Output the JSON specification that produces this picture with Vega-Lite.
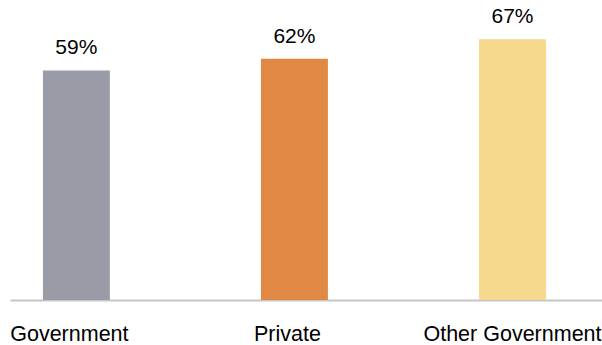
{
  "$schema": "https://vega.github.io/schema/vega-lite/v6.json",
  "width": 592,
  "height": 300,
  "autosize": {"type": "none"},
  "padding": {"left": 10, "top": 0, "right": 0, "bottom": 45},
  "background": "white",
  "config": {"view": {"stroke": null}, "font": "Liberation Sans"},
  "data": {"values": [
    {"sector": "Government", "share": 0.59, "label": "59%"},
    {"sector": "Private", "share": 0.62, "label": "62%"},
    {"sector": "Other Government", "share": 0.67, "label": "67%"}
  ]},
  "encoding": {
    "x": {"field": "sector", "type": "nominal", "sort": null,
      "scale": {"paddingInner": 0.693, "paddingOuter": 0.204, "align": 0.37},
      "axis": {"title": null, "labelAngle": 0, "ticks": false, "domainColor": "#c6c6c6", "domainWidth": 2,
        "labelFontSize": 21.5, "labelColor": "#000000", "labelPadding": 23, "labelFont": "Liberation Sans",
        "labelOffset": {"condition": {"test": "datum.value !== 'Other Government'", "value": -7}, "value": 0}}},
    "y": {"field": "share", "type": "quantitative", "scale": {"domain": [0, 0.771]}, "axis": null}
  },
  "layer": [
    {"mark": {"type": "bar"},
     "encoding": {"color": {"field": "sector", "type": "nominal", "legend": null,
       "scale": {"domain": ["Government", "Private", "Other Government"], "range": ["#999ba7", "#e08844", "#f6d98d"]}}}},
    {"mark": {"type": "text", "baseline": "bottom", "dy": -12, "fontSize": 21, "color": "#000000"},
     "encoding": {"text": {"field": "label"}}}
  ]
}
